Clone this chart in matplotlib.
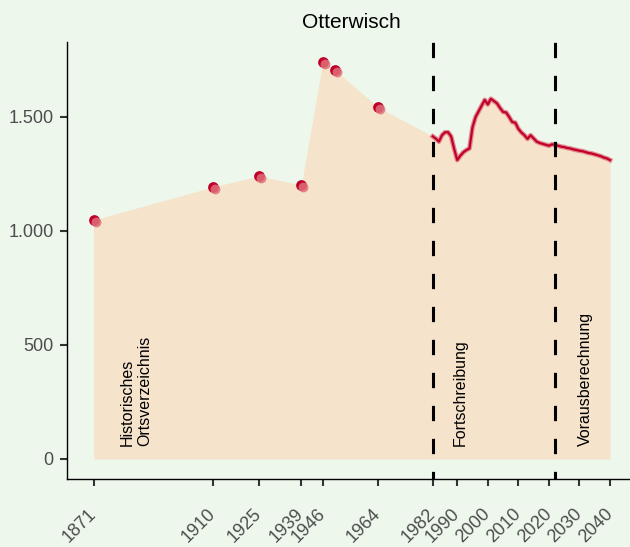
import matplotlib
matplotlib.use("Agg")
import matplotlib.pyplot as plt
import matplotlib.transforms as mtransforms
import numpy as np

plt.rcParams['font.family'] = ['Liberation Sans', 'DejaVu Sans']

# Historical census points
hist_years = [1871, 1910, 1925, 1939, 1946, 1950, 1964]
hist_pop = [1048, 1193, 1241, 1202, 1741, 1706, 1544]

# Annual updates (Fortschreibung)
upd_years = list(range(1982, 2022))
upd_pop = [1415, 1405, 1392, 1420, 1433, 1433, 1415, 1360, 1311, 1330,
           1345, 1355, 1362, 1455, 1500, 1525, 1550, 1575, 1555, 1580,
           1570, 1560, 1540, 1522, 1520, 1500, 1478, 1475, 1448, 1432,
           1420, 1404, 1420, 1406, 1392, 1386, 1382, 1378, 1374, 1380]

# Projection (Vorausberechnung)
proj_years = list(range(2022, 2041))
proj_pop = [1378, 1374, 1370, 1368, 1364, 1362, 1358, 1355, 1352, 1350,
            1346, 1342, 1340, 1336, 1332, 1328, 1322, 1318, 1311]

xticks = [1871, 1910, 1925, 1939, 1946, 1964, 1982, 1990, 2000, 2010, 2020, 2030, 2040]
yticks = [0, 500, 1000, 1500]
ytick_labels = ["0", "500", "1.000", "1.500"]
breaks = [1982, 2022]
section_labels = ["Historisches\nOrtsverzeichnis", "Fortschreibung", "Vorausberechnung"]
section_x = [1885, 1991, 2032]

bg = "#edf7ec"
fill_c = "#f5e3cb"
dark_red = "#c0002a"
light_red = "#e0707a"

fig = plt.figure(figsize=(6.3, 5.47), dpi=100, facecolor=bg)
W, H = 630, 547
ax = fig.add_axes([67 / W, (H - 479) / H, (636 - 67) / W, (479 - 42) / H])
ax.set_facecolor(bg)

all_years = hist_years + upd_years + proj_years
all_pop = hist_pop + upd_pop + proj_pop
ax.fill_between(all_years, 0, all_pop, color=fill_c, lw=0, zorder=1)

line_years = upd_years + proj_years
line_pop = upd_pop + proj_pop
ax.plot(line_years, line_pop, color=light_red, lw=3.4, alpha=0.8, zorder=3,
        solid_joinstyle='round')
ax.plot(line_years, line_pop, color=dark_red, lw=1.6, zorder=4,
        solid_joinstyle='round')

ax.scatter(hist_years, hist_pop, s=60, color=dark_red, lw=0, zorder=5)
off = mtransforms.offset_copy(ax.transData, fig=fig, x=2, y=-2, units='dots')
ax.scatter(hist_years, hist_pop, s=50, color=light_red, alpha=0.85, lw=0,
           zorder=6, transform=off)

for b in breaks:
    ax.axvline(b, color="black", lw=2.2, ls=(2.5, (5, 5.8)), zorder=7)

for lbl, xv in zip(section_labels, section_x):
    ax.text(xv, 55, lbl, rotation=90, ha='center', va='bottom',
            fontsize=11.5, color='black', zorder=8, multialignment='left')

ax.set_xlim(1862.3, 2048.5)
ax.set_ylim(-88, 1829)
ax.set_xticks(xticks)
ax.set_xticklabels([str(x) for x in xticks], rotation=45, ha='right', va='center',
                   rotation_mode='anchor', fontsize=13, color="#4d4d4d")
ax.set_yticks(yticks)
ax.set_yticklabels(ytick_labels, fontsize=13, color="#4d4d4d")
ax.tick_params(axis='both', length=5, width=1.5, color="#333333")
ax.tick_params(axis='x', pad=18.5)
ax.tick_params(axis='y', pad=4.8)

for s in ['top', 'right']:
    ax.spines[s].set_visible(False)
for s in ['left', 'bottom']:
    ax.spines[s].set_color('black')
    ax.spines[s].set_linewidth(1)

ax.set_title("Otterwisch", fontsize=15, color="black", pad=10)

fig.savefig("out.png", dpi=100, facecolor=bg)
